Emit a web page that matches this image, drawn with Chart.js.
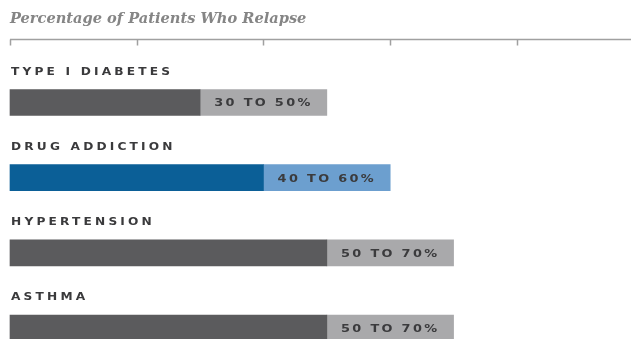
<!DOCTYPE html>
<html>
<head>
<meta charset="utf-8">
<script src="https://cdn.jsdelivr.net/npm/chart.js@4"></script>
<style>
  html, body { margin: 0; padding: 0; background: #fff; overflow: hidden; }
  #wrap { position: relative; width: 631px; height: 339px; }
</style>
</head>
<body>
<div id="wrap"><canvas id="chart"></canvas></div>
<script>
// relapse ranges
const CATEGORIES = ["TYPE I DIABETES", "DRUG ADDICTION", "HYPERTENSION", "ASTHMA"];
const LOW = [30, 40, 50, 50];
const HIGH = [50, 60, 70, 70];
const RANGE_TEXT = ["30 TO 50%", "40 TO 60%", "50 TO 70%", "50 TO 70%"];
const AXIS_TICKS = [0, 20, 40, 60, 80];

const DARK = ["#5b5b5d", "#0b5f97", "#5b5b5d", "#5b5b5d"];
const LIGHT = ["#a9a9ab", "#6c9fcf", "#a9a9ab", "#a9a9ab"];

// the caps in the original are a wide, squarish face: stretch sideways a bit
function wideText(ctx, txt, x, y, stretch){
  ctx.save();
  ctx.translate(x, y);
  ctx.scale(stretch, 1);
  ctx.fillText(txt, 0, 0);
  ctx.restore();
}

// top rule with short ticks hanging down, plus the row labels
const decor = {
  id: "decor",
  afterDatasetsDraw(chart){
    const ctx = chart.ctx, x = chart.scales.x, y = chart.scales.y;
    const area = chart.chartArea;
    const ruleY = area.top - 63;
    ctx.save();
    ctx.strokeStyle = "#a0a0a0";
    ctx.lineWidth = 1.5;
    ctx.beginPath();
    ctx.moveTo(x.getPixelForValue(0), ruleY);
    ctx.lineTo(chart.width, ruleY);
    AXIS_TICKS.forEach(v=>{
      const px = Math.round(x.getPixelForValue(v)) + 0.5;
      ctx.moveTo(px, ruleY);
      ctx.lineTo(px, ruleY + 6);
    });
    ctx.stroke();

    // category names above each bar
    ctx.fillStyle = "#3a3a3c";
    ctx.font = "bold 10px 'DejaVu Sans'";
    ctx.letterSpacing = "2.6px";
    ctx.textBaseline = "alphabetic";
    ctx.textAlign = "left";
    CATEGORIES.forEach((c,i)=>{
      const cy = y.getPixelForValue(i);
      wideText(ctx, c, x.getPixelForValue(0) + 1, cy - 13 - 15, 1.22);
    });

    // range text centred in the light segment
    const meta = chart.getDatasetMeta(1);
    ctx.font = "bold 11px 'DejaVu Sans'";
    ctx.letterSpacing = "2px";
    ctx.textAlign = "center";
    ctx.textBaseline = "middle";
    ctx.fillStyle = "#3b3b3d";
    meta.data.forEach((bar,i)=>{
      const cx = (bar.x + bar.base) / 2;
      wideText(ctx, RANGE_TEXT[i], cx, bar.y + 1, 1.17);
    });
    ctx.restore();
  }
};

new Chart(document.getElementById("chart"), {
  type: "bar",
  data: {
    labels: CATEGORIES,
    datasets: [
      { data: LOW.map(v=>[0, v]), backgroundColor: DARK, barThickness: 26, clip: false },
      { data: LOW.map((v,i)=>[v, HIGH[i]]), backgroundColor: LIGHT, barThickness: 26, clip: false }
    ]
  },
  options: {
    indexAxis: "y",
    responsive: true,
    maintainAspectRatio: false,
    animation: false,
    grouped: false,
    layout: { padding: { left: 10, right: 0, top: 0, bottom: 11 } },
    scales: {
      x: { display: false, min: 0, max: 98 },
      y: { display: false, offset: false }
    },
    plugins: {
      legend: { display: false },
      tooltip: { enabled: false },
      title: {
        display: true,
        text: "Percentage of Patients Who Relapse",
        align: "start",
        color: "#858585",
        font: { family: "'DejaVu Serif'", size: 14.6, style: "italic", weight: "bold" },
        padding: { top: 10, bottom: 75 }
      }
    }
  },
  plugins: [decor]
});
</script>
</body>
</html>
